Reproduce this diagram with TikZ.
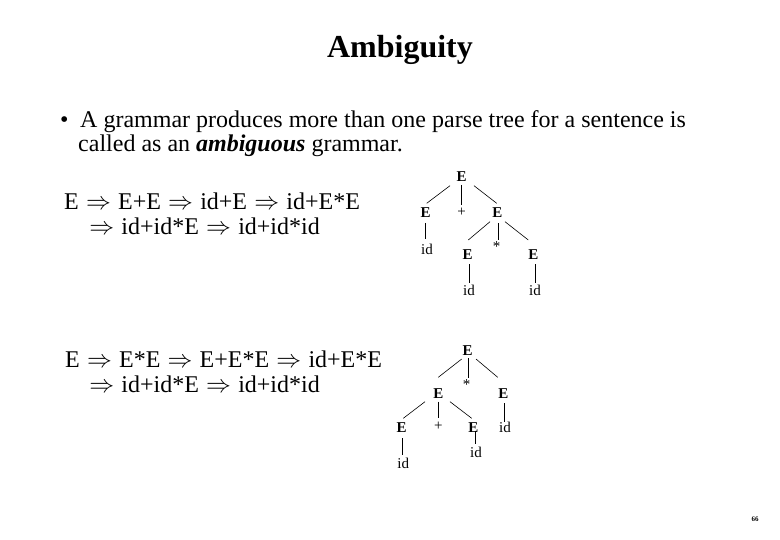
\documentclass[tikz,border=0pt]{standalone}
\usepackage{fontspec}
\setmainfont{Liberation Serif}
\begin{document}
\begin{tikzpicture}[x=1pt,y=-1pt,
  txt/.style={inner sep=0pt,font=\fontsize{24}{28}\selectfont,anchor=base west,text height=16pt,text depth=2pt},
  nt/.style={inner sep=0pt,font=\fontsize{15}{18}\selectfont\bfseries},
  tm/.style={inner sep=0pt,font=\fontsize{15}{18}\selectfont},
  edge/.style={line width=0.6pt}]
\useasboundingbox (0,0) rectangle (780,540);
\newcommand{\imp}{\hspace{0.05em}\ensuremath{\Rightarrow}\hspace{0.05em}}
% title
\node[inner sep=0pt,font=\fontsize{32}{36}\selectfont\bfseries,anchor=base] (title) at (400,58) {Ambiguity};
% bullet
\node[txt] (bul) at (60,128) {\textbullet};
\node[txt] (l1) at (80,128) {A grammar produces more than one parse tree for a sentence is};
\node[txt] (l2) at (78,152) {called as an \textbf{\textit{ambiguous}} grammar.};
% derivations
\node[txt] (d1a) at (64,210) {E \imp{} E+E \imp{} id+E \imp{} id+E*E};
\node[txt] (d1b) at (88,235) {\imp{} id+id*E \imp{} id+id*id};
\node[txt] (d2a) at (65,367) {E \imp{} E*E \imp{} E+E*E \imp{} id+E*E};
\node[txt] (d2b) at (88,392) {\imp{} id+id*E \imp{} id+id*id};
% tree 1
\node[nt] (t1) at (461.7,176.7) {E};
\node[nt] (a1) at (425.7,212.7) {E};
\node[tm] (p1) at (461.7,212.7) {+};
\node[nt] (b1) at (497.3,212.7) {E};
\node[tm] (ia1) at (427,249) {id};
\node[nt] (c1) at (467.7,255) {E};
\node[tm] (s1) at (496.7,247) {*};
\node[nt] (d1) at (533.3,255) {E};
\node[tm] (ic1) at (469,290) {id};
\node[tm] (id1) at (535,290) {id};
\draw[edge] ([shift={(-11.7,9)}]t1.center) -- ([shift={(1,-9.4)}]a1.center);
\draw[edge] ([shift={(0,8.3)}]t1.center) -- ([shift={(0,-7.7)}]p1.center);
\draw[edge] ([shift={(12.3,9)}]t1.center) -- ([shift={(-0.6,-9.4)}]b1.center);
\draw[edge] ([shift={(0,10.3)}]a1.center) -- ([shift={(-1.3,-9.7)}]ia1.center);
\draw[edge] ([shift={(-7.3,9)}]b1.center) -- ([shift={(0.6,-15)}]c1.center);
\draw[edge] ([shift={(1,10.6)}]b1.center) -- ([shift={(1.6,-7)}]s1.center);
\draw[edge] ([shift={(7.7,9)}]b1.center) -- ([shift={(-5,-15)}]d1.center);
\draw[edge] ([shift={(1.3,9.3)}]c1.center) -- ([shift={(0,-6.7)}]ic1.center);
\draw[edge] ([shift={(1.7,9.3)}]d1.center) -- ([shift={(0,-6.7)}]id1.center);
% tree 2
\node[nt] (t2) at (467.7,351) {E};
\node[nt] (a2) at (438.3,393.3) {E};
\node[tm] (s2) at (466.7,385) {*};
\node[nt] (b2) at (503.3,393.3) {E};
\node[nt] (aa2) at (401.7,427.7) {E};
\node[tm] (p2) at (438.3,426.7) {+};
\node[nt] (ab2) at (473.3,427.7) {E};
\node[tm] (ib2) at (505,427.7) {id};
\node[tm] (iaa2) at (403.3,463.3) {id};
\node[tm] (iab2) at (476,452) {id};
\draw[edge] ([shift={(-6,8)}]t2.center) -- ([shift={(0,-16)}]a2.center);
\draw[edge] ([shift={(0.6,7.3)}]t2.center) -- ([shift={(1.6,-7.3)}]s2.center);
\draw[edge] ([shift={(8.3,8)}]t2.center) -- ([shift={(-5.6,-16)}]b2.center);
\draw[edge] ([shift={(-13.3,8.4)}]a2.center) -- ([shift={(1.6,-9.4)}]aa2.center);
\draw[edge] ([shift={(0,8.4)}]a2.center) -- ([shift={(0,-8.4)}]p2.center);
\draw[edge] ([shift={(11.7,8.4)}]a2.center) -- ([shift={(-1.6,-9.4)}]ab2.center);
\draw[edge] ([shift={(1,10)}]b2.center) -- ([shift={(-0.7,-5.4)}]ib2.center);
\draw[edge] ([shift={(1,10.6)}]aa2.center) -- ([shift={(-0.6,-8.3)}]iaa2.center);
\draw[edge] ([shift={(1.7,3)}]ab2.center) -- ([shift={(-1,-8)}]iab2.center);
% page number
\node[inner sep=0pt,font=\fontsize{7}{8}\selectfont\bfseries] (pg) at (755,519) {66};
\end{tikzpicture}
\end{document}
